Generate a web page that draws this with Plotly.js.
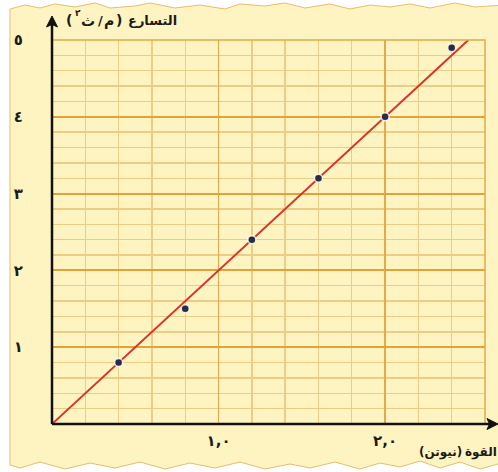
<!DOCTYPE html>
<html>
<head>
<meta charset="utf-8">
<script src="https://cdn.plot.ly/plotly-3.0.1.min.js"></script>
<style>
  html, body { margin: 0; padding: 0; background: #ffffff; }
  #chart { width: 498px; height: 472px; }
</style>
</head>
<body>
<div id="chart"></div>
<script>
// Measured force (N) and acceleration (m/s²)
const force = [0.4, 0.8, 1.2, 1.6, 2.0, 2.4];
const accel = [0.8, 1.5, 2.4, 3.2, 4.0, 4.9];

// Best-fit straight line through the origin
const fitForce = [0, 2.5];
const fitAccel = [0, 5.0];

// Axis tick values and their Arabic-Indic labels
const xTickVals = [1, 2];
const xTickText = ['١,٠', '٢,٠'];
const yTickVals = [1, 2, 3, 4, 5];
const yTickText = ['١', '٢', '٣', '٤', '٥'];

const W = 498, H = 472;
const M = { l: 52, r: 13, t: 40, b: 48 };
const PW = W - M.l - M.r, PH = H - M.t - M.b;
// pixel position -> paper fraction
const fx = px => (px - M.l) / PW;
const fy = py => (H - M.b - py) / PH;
const toPath = pts => 'M' + pts.map(p => fx(p[0]).toFixed(4) + ',' + fy(p[1]).toFixed(4)).join(' L') + ' Z';

// Sheet of graph paper with torn top and bottom edges
const topEdge = [[10,9],[25,5],[40,8],[55,4],[75,7],[95,3],[110,8],[135,6],[150,3],[175,8],[200,5],[225,9],[240,4],[265,6],[285,3],[305,8],[330,4],[350,9],[370,5],[390,7],[410,4],[430,8],[455,3],[475,7],[505,5]];
const bottomEdge = [[505,462],[480,469],[460,462],[440,468],[420,461],[400,467],[380,463],[360,469],[335,462],[310,468],[290,464],[265,469],[240,462],[215,468],[190,463],[165,469],[140,462],[115,468],[90,463],[65,469],[40,462],[20,468],[10,465]];
const sheetPath = toPath(topEdge.concat(bottomEdge));

const ink = '#1b1b1b';
const axisInk = '#111111';
const arabicFont = 'DejaVu Sans, sans-serif';

const traces = [
  {
    x: fitForce, y: fitAccel,
    mode: 'lines', type: 'scatter',
    line: { color: '#D8342A', width: 2 },
    hoverinfo: 'skip'
  },
  {
    x: force, y: accel,
    mode: 'markers', type: 'scatter',
    marker: { color: '#2A2D40', size: 8, line: { color: 'rgba(255,255,255,0.85)', width: 1.5 } }
  }
];

// small helper for a text piece placed at a pixel position
const label = (text, px, py, size, extra) => Object.assign({
  xref: 'paper', yref: 'paper', x: fx(px), y: fy(py),
  xanchor: 'center', yanchor: 'middle', showarrow: false, text: text,
  font: { family: arabicFont, size: size, color: ink, weight: 'bold' }
}, extra || {});

const layout = {
  width: W, height: H,
  margin: M,
  paper_bgcolor: '#ffffff',
  plot_bgcolor: 'rgba(0,0,0,0)',
  showlegend: false,
  xaxis: {
    range: [0, 2.6],
    tickvals: xTickVals, ticktext: xTickText,
    ticks: '', ticklabelstandoff: 6,
    tickfont: { family: arabicFont, size: 15, color: ink, weight: 'bold' },
    showgrid: true, gridcolor: '#E3A94A', gridwidth: 1.8,
    minor: { dtick: 0.2, tick0: 0, showgrid: true, gridcolor: '#ECCD86', gridwidth: 1.4 },
    zeroline: false, showline: false, fixedrange: true
  },
  yaxis: {
    range: [0, 5],
    tickvals: yTickVals, ticktext: yTickText,
    ticks: '', ticklabelstandoff: 28,
    tickfont: { family: arabicFont, size: 15, color: ink, weight: 'bold' },
    showgrid: true, gridcolor: '#E3A13A', gridwidth: 2,
    minor: { dtick: 0.2, tick0: 0, showgrid: true, gridcolor: '#ECCD86', gridwidth: 1.4 },
    zeroline: false, showline: false, fixedrange: true
  },
  shapes: [
    {
      type: 'path', xref: 'paper', yref: 'paper', layer: 'below',
      path: sheetPath,
      fillcolor: '#FEF4C2',
      line: { color: '#E6BD6E', width: 1 }
    },
    {
      type: 'rect', xref: 'paper', yref: 'paper', layer: 'above',
      x0: 0, x1: 1, y0: 0, y1: 1,
      line: { color: '#E3A94A', width: 1.5 }
    },
    // axes with arrowheads
    {
      type: 'line', xref: 'paper', yref: 'paper', layer: 'above',
      x0: 0, y0: 0, x1: 0, y1: fy(24),
      line: { color: axisInk, width: 2.5 }
    },
    {
      type: 'path', xref: 'paper', yref: 'paper', layer: 'above',
      path: toPath([[52,16],[46.5,27],[52,24.5],[57.5,27]]),
      fillcolor: axisInk, line: { color: axisInk, width: 1 }
    },
    {
      type: 'line', xref: 'paper', yref: 'paper', layer: 'above',
      x0: 0, y0: 0, x1: fx(492), y1: 0,
      line: { color: axisInk, width: 2.5 }
    },
    {
      type: 'path', xref: 'paper', yref: 'paper', layer: 'above',
      path: toPath([[498,424],[487,418.5],[489.5,424],[487,429.5]]),
      fillcolor: axisInk, line: { color: axisInk, width: 1 }
    }
  ],
  annotations: [
    // vertical axis title, right to left: التسارع ( م/ ث٢ )
    label('التسارع', 126, 20, 13, { xanchor: 'left' }),
    label(')', 119, 20, 14),
    label('م', 109, 21, 14),
    label('/', 100, 20, 13),
    label('ث', 88, 21, 14),
    label('٢', 78, 13, 9),
    label('(', 69, 20, 14),
    // horizontal axis title, right to left: القوة (نيوتن)
    label('القوة', 481, 452, 12),
    label('(نيوتن)', 440, 452, 12)
  ]
};

Plotly.newPlot('chart', traces, layout, { displayModeBar: false, staticPlot: true });
</script>
</body>
</html>
